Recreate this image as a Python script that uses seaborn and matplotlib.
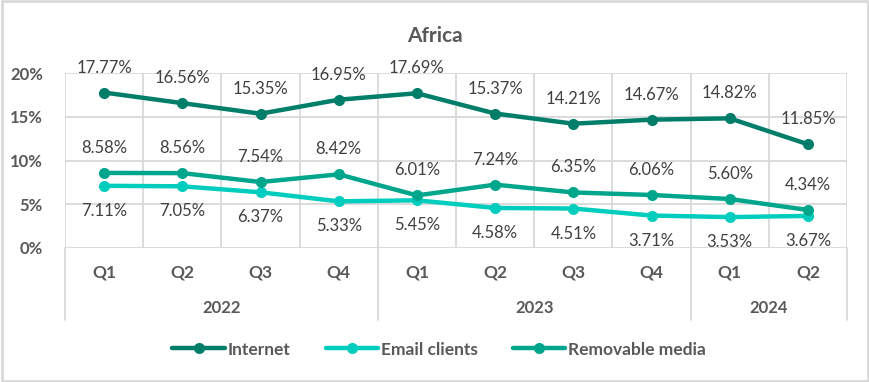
import matplotlib
matplotlib.use("Agg")
import matplotlib.pyplot as plt
import matplotlib.transforms as mtransforms
from matplotlib.patches import Rectangle
from matplotlib.lines import Line2D
import seaborn as sns
import pandas as pd

quarters = ["Q1", "Q2", "Q3", "Q4", "Q1", "Q2", "Q3", "Q4", "Q1", "Q2"]
years = ["2022", "2023", "2024"]
year_spans = [(0, 3), (4, 7), (8, 9)]
series = ["Internet", "Email clients", "Removable media"]
internet = [17.77, 16.56, 15.35, 16.95, 17.69, 15.37, 14.21, 14.67, 14.82, 11.85]
email = [7.11, 7.05, 6.37, 5.33, 5.45, 4.58, 4.51, 3.71, 3.53, 3.67]
removable = [8.58, 8.56, 7.54, 8.42, 6.01, 7.24, 6.35, 6.06, 5.60, 4.34]

colors = {"Internet": "#007E69", "Email clients": "#00CDBD", "Removable media": "#00A68C"}
label_side = {"Internet": 1, "Email clients": -1, "Removable media": 1}
GRID = "#D9D9D9"
TXT = "#595959"

sns.set_style("white")
plt.rcParams["font.family"] = ["Lato", "DejaVu Sans"]

rows = []
for name, vals in zip(series, [internet, email, removable]):
    for i, v in enumerate(vals):
        rows.append({"idx": i, "value": v, "series": name})
df = pd.DataFrame(rows)

fig = plt.figure(figsize=(8.7, 3.82), dpi=100)
ax = fig.add_axes([0.0747, 0.3508, 0.899, 0.458])

# grid
for y in [0, 5, 10, 15, 20]:
    ax.axhline(y, color=GRID, lw=1.3, zorder=0)
for x in [i - 0.5 for i in range(11)]:
    ax.axvline(x, color=GRID, lw=1.3, zorder=0)

sns.lineplot(data=df, x="idx", y="value", hue="series", palette=colors,
             hue_order=[series[1], series[2], series[0]],
             marker="o", markersize=8, markeredgewidth=0, linewidth=3.2,
             ax=ax, legend=False, zorder=3)

for name in series:
    sub = df[df["series"] == name]
    for _, r in sub.iterrows():
        ax.annotate(f"{r['value']:.2f}%", (r["idx"], r["value"]),
                    xytext=(0, 18 * label_side[name]), textcoords="offset points",
                    ha="center", va="center", fontsize=12, color="#404040")

ax.set_xlim(-0.5, 9.5)
ax.set_ylim(0, 20)
ax.set_yticks([0, 5, 10, 15, 20])
ax.set_yticklabels([f"{v}%" for v in [0, 5, 10, 15, 20]], fontsize=12,
                   fontweight="bold", color=TXT)
ax.set_xticks(range(10))
ax.set_xticklabels(quarters, fontsize=12.5, fontweight="bold", color=TXT)
ax.tick_params(axis="x", length=0, pad=12)
ax.tick_params(axis="y", length=0, pad=16)
ax.set_xlabel("")
ax.set_ylabel("")
sns.despine(ax=ax, left=True, bottom=True, right=True, top=True)

# year level of the category axis
trans = mtransforms.blended_transform_factory(ax.transData, ax.transAxes)
for b in [-0.5, 3.5, 7.5, 9.5]:
    ax.plot([b, b], [0, -0.41], transform=trans, color=GRID, lw=1.3, clip_on=False)
for yr, (a, b) in zip(years, year_spans):
    ax.text((a + b) / 2, -0.345, yr, transform=trans, ha="center", va="center",
            fontsize=12, fontweight="bold", color=TXT)

fig.text(0.5, 0.905, "Africa", ha="center", va="center", fontsize=15,
         fontweight="bold", color=TXT)

handles = [Line2D([0], [0], color=colors[n], lw=3.2, marker="o", markersize=8,
                  markeredgewidth=0) for n in series]
fig.legend(handles, series, loc="center", bbox_to_anchor=(0.505, 0.085), ncol=3,
           frameon=False, handlelength=3.0, handletextpad=0.2, columnspacing=2.0,
           prop={"size": 12.5, "weight": "bold"}, labelcolor=TXT)

fig.add_artist(Rectangle((0.002, 0.003), 0.996, 0.994, transform=fig.transFigure,
                         fill=False, edgecolor=GRID, lw=2))

fig.savefig("out.png", dpi=100)
